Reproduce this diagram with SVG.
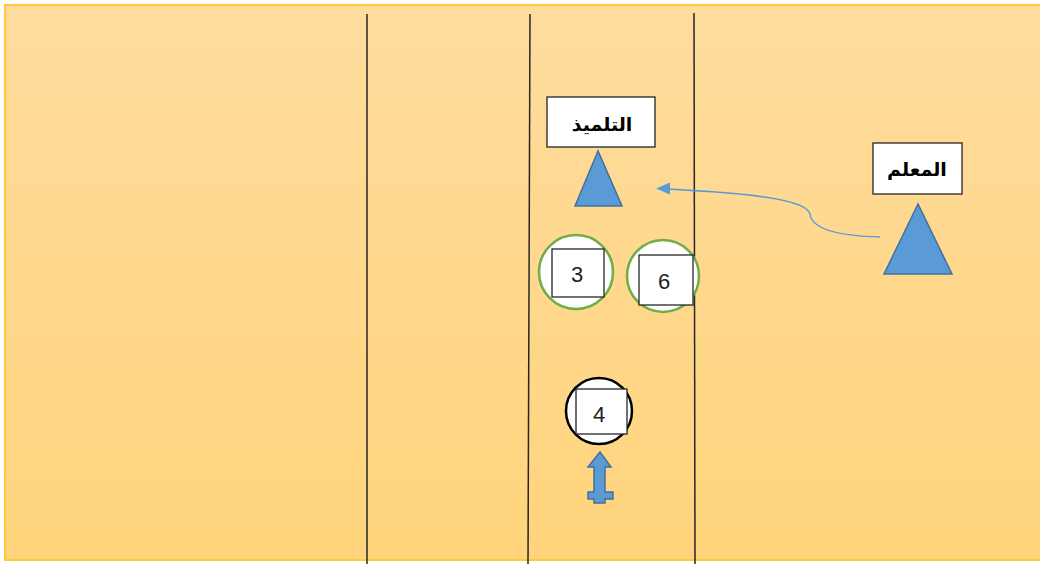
<svg xmlns="http://www.w3.org/2000/svg" width="1040" height="564" viewBox="0 0 1040 564">
<defs>
<linearGradient id="bg" x1="0" y1="0" x2="0" y2="1">
<stop offset="0" stop-color="#FFDC9E"/>
<stop offset="1" stop-color="#FFD47C"/>
</linearGradient>
<style>
.lane{stroke:#262626;stroke-width:1.5;fill:none}
.box{fill:#fff;stroke:#262626;stroke-width:1.3}
.tri{fill:#5B9BD5;stroke:#41719C;stroke-width:1.5}
.gc{fill:#fff;stroke:#70AD47;stroke-width:2.5}
.num{font-family:"Liberation Sans",Arial,sans-serif;font-size:22px;fill:#222;text-anchor:middle}
.ar{font-family:"Liberation Sans","DejaVu Sans",sans-serif;font-size:19px;font-weight:bold;fill:#000;text-anchor:middle}
</style>
</defs>
<rect x="5" y="5" width="1040" height="555" fill="url(#bg)" stroke="#FFC933" stroke-width="2"/>
<g id="lanes">
<line class="lane" x1="367" y1="14" x2="367" y2="564"/>
<line class="lane" x1="530" y1="14" x2="528" y2="564"/>
<line class="lane" x1="694" y1="13" x2="695" y2="564"/>
</g>
<g id="student">
<rect class="box" x="547" y="97" width="108" height="50"/>
<text class="ar" x="602" y="131" direction="rtl">التلميذ</text>
<polygon class="tri" points="598,151 575,206 622,206"/>
</g>
<g id="teacher">
<rect class="box" x="873" y="143" width="89" height="51"/>
<text class="ar" x="917" y="176" direction="rtl">المعلم</text>
<polygon class="tri" points="918,204 884,274 952,274"/>
</g>
<g id="c3">
<circle class="gc" cx="576" cy="272" r="37"/>
<rect class="box" x="552" y="249" width="52" height="48"/>
<text class="num" x="577" y="282">3</text>
</g>
<g id="c6">
<circle class="gc" cx="663" cy="276" r="36"/>
<rect class="box" x="639" y="255" width="54" height="50"/>
<text class="num" x="664" y="289">6</text>
</g>
<g id="c4">
<circle cx="599" cy="411" r="33" fill="#fff" stroke="#000" stroke-width="2.5"/>
<rect class="box" x="576" y="389" width="51" height="45"/>
<text class="num" x="599" y="422">4</text>
</g>
<g id="runner">
<path d="M600,452 L611,467 L605,467 L605,492 L613,492 L613,499 L605,499 L605,503 L594,503 L594,499 L588,499 L588,492 L594,492 L594,467 L588,467 Z" fill="#5B9BD5" stroke="#41719C" stroke-width="1.5"/>
</g>
<g id="connectors">
<path d="M880,237 C840,236 812,230 810,214 C806,198 740,193 668,189" fill="none" stroke="#5B9BD5" stroke-width="1.5"/>
<polygon points="656,188.5 670,182.5 670,194.5" fill="#5B9BD5"/>
</g>
</svg>
